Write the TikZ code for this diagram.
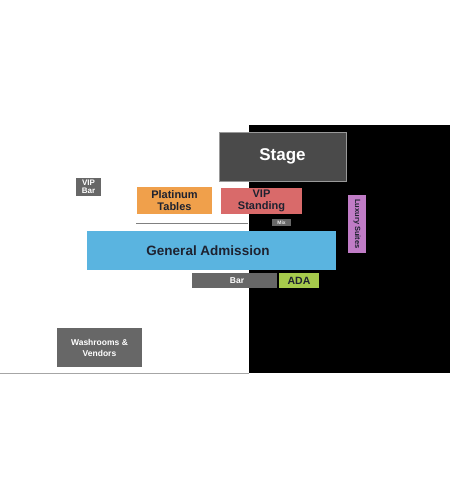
\documentclass[tikz,border=0pt]{standalone}
\usepackage{fontspec}
\setmainfont{Liberation Sans}
\definecolor{stagegray}{HTML}{4A4A4A}
\definecolor{boxgray}{HTML}{676767}
\definecolor{vipred}{HTML}{D96A6A}
\definecolor{platorange}{HTML}{F0A04B}
\definecolor{gablue}{HTML}{5AB4E0}
\definecolor{luxpurple}{HTML}{C07CC6}
\definecolor{adagreen}{HTML}{A6CA4C}
\definecolor{darktext}{HTML}{1E2230}
\begin{document}
\begin{tikzpicture}[x=1pt,y=-1pt,
  area/.style={inner sep=0pt,align=center,font=\bfseries,text=darktext},
  lbl/.style={inner sep=0pt,align=center,font=\bfseries}]
\useasboundingbox (0,0) rectangle (450,500);
\fill[white] (0,0) rectangle (450,500);
% black background
\fill[black] (249,125) rectangle (450,373);
\draw[gray!70,line width=1pt] (0,373) -- (249,373);
% Stage
\filldraw[fill=stagegray,draw=gray!80,line width=0.6pt] (219,132) rectangle (346,181);
\node[lbl,text=white,font=\bfseries\fontsize{17}{19}\selectfont] (stage) at (282.5,156) {Stage};
% VIP Standing
\fill[vipred] (221,188) rectangle (302,214);
\node[area,font=\bfseries\fontsize{11}{12.5}\selectfont] (vip) at (261.5,201) {VIP\\Standing};
% Platinum Tables
\fill[platorange] (137,187) rectangle (212,214);
\node[area,font=\bfseries\fontsize{11}{12}\selectfont] (plat) at (174.5,200.5) {Platinum\\Tables};
% VIP Bar
\fill[boxgray] (76,178) rectangle (101,196);
\node[lbl,text=white,font=\bfseries\fontsize{8}{8.5}\selectfont] (vipbar) at (88.5,187) {VIP\\Bar};
% divider line
\draw[gray,line width=0.8pt] (136,223) -- (248,223);
% Mix
\fill[boxgray] (272,219) rectangle (291,226);
\node[lbl,text=white!85!gray,font=\bfseries\fontsize{5}{5}\selectfont] (mix) at (281.5,222.5) {Mix};
% General Admission
\fill[gablue] (87,231) rectangle (336,270);
\node[area,font=\bfseries\fontsize{13.5}{16}\selectfont] (ga) at (208,251) {General Admission};
% Luxury Suites
\fill[luxpurple] (348,195) rectangle (366,253);
\node[area,rotate=-90,font=\bfseries\fontsize{7.5}{8}\selectfont] (lux) at (357,224) {Luxury Suites};
% Bar
\fill[boxgray] (192,273) rectangle (277,288);
\node[lbl,text=white,font=\bfseries\fontsize{8.5}{9}\selectfont] (bar) at (237,280.5) {Bar};
% ADA
\fill[adagreen] (279,273) rectangle (319,288);
\node[area,font=\bfseries\fontsize{10.5}{11}\selectfont] (ada) at (299,280.5) {ADA};
% Washrooms
\fill[boxgray] (57,328) rectangle (142,367);
\node[lbl,text=white,font=\bfseries\fontsize{8.5}{11}\selectfont] (wash) at (99.5,347.5) {Washrooms \&\\Vendors};
\end{tikzpicture}
\end{document}
